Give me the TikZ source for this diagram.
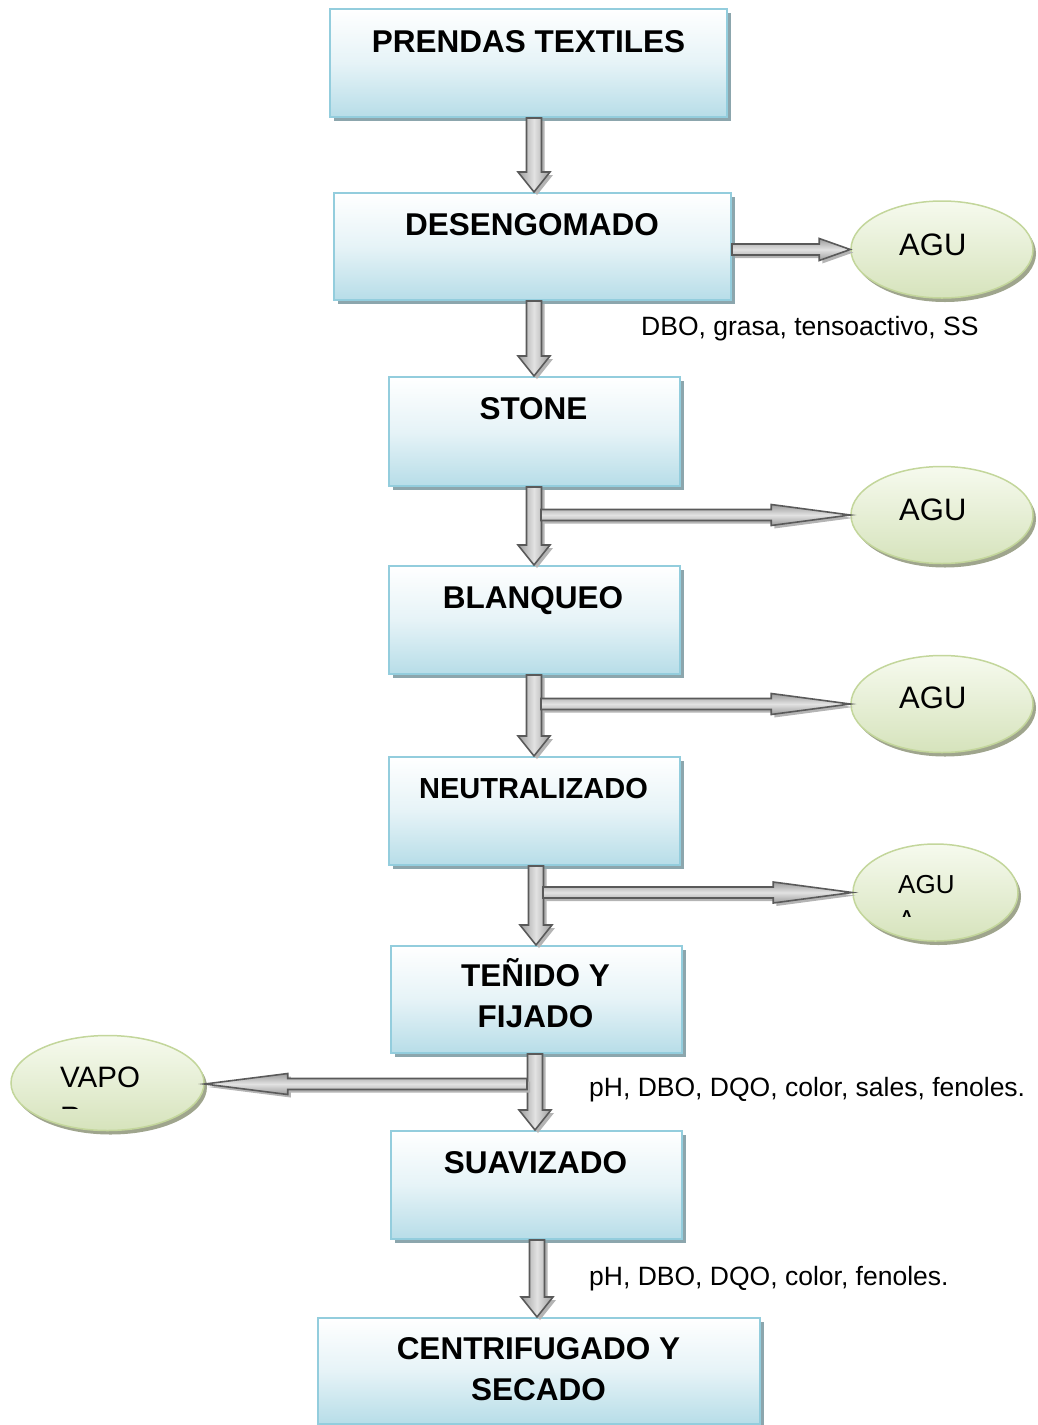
\documentclass[tikz,border=0pt]{standalone}
\usepackage{fontspec}
\setmainfont{Liberation Sans}
\usetikzlibrary{calc,shadows,shapes.geometric}

\definecolor{boxline}{HTML}{93CDDD}
\definecolor{boxbot}{HTML}{B7DDE8}
\definecolor{boxshadow}{HTML}{8CA6AD}
\definecolor{elline}{HTML}{C3D69B}
\definecolor{eltop}{HTML}{F6FAEE}
\definecolor{elbot}{HTML}{D6E3BC}
\definecolor{elshadow}{HTML}{9FA58D}
\definecolor{arrline}{HTML}{5A5A5A}
\definecolor{arrdark}{HTML}{9C9C9C}
\definecolor{arrlight}{HTML}{E2E2E2}
\definecolor{arrshadow}{HTML}{B4B4B4}

\tikzset{
  stepbox/.style={rectangle, draw=boxline, line width=2pt, inner sep=0pt,
    top color=white, bottom color=boxbot, middle color=boxbot!35!white,
    drop shadow={shadow xshift=4pt, shadow yshift=-4pt, fill=boxshadow, opacity=1}},
  ell/.style={ellipse, draw=elline, line width=1.5pt, inner sep=0pt,
    top color=eltop, bottom color=elbot,
    drop shadow={shadow xshift=3pt, shadow yshift=-4pt, fill=elshadow, opacity=1}},
  title/.style={inner sep=0pt, align=center, font=\bfseries\fontsize{31.5}{40.5}\selectfont},
  eltext/.style={inner sep=0pt, anchor=base west, font=\fontsize{31}{36}\selectfont},
  lbl/.style={inner sep=0pt, anchor=base west, font=\fontsize{26.5}{32}\selectfont},
  vshade/.style={left color=arrdark, right color=arrdark, middle color=arrlight},
  hshade/.style={top color=arrdark, bottom color=arrdark, middle color=arrlight},
}

% #1 shading style, #2 from, #3 to, #4 shaft half width, #5 head half width, #6 head length
\newcommand\blockarrow[6]{%
  \coordinate (baA) at #2;
  \coordinate (baB) at #3;
  \coordinate (baH) at ($(baB)!#6!(baA)$);
  \coordinate (bp1) at ($(baA)!#4!90:(baB)$);
  \coordinate (bp2) at ($(baH)!#4!90:(baB)$);
  \coordinate (bp3) at ($(baH)!#5!90:(baB)$);
  \coordinate (bp5) at ($(baH)!#5!-90:(baB)$);
  \coordinate (bp6) at ($(baH)!#4!-90:(baB)$);
  \coordinate (bp7) at ($(baA)!#4!-90:(baB)$);
  \fill[arrshadow] ([shift={(3,3)}]bp1) -- ([shift={(3,3)}]bp2) -- ([shift={(3,3)}]bp3)
     -- ([shift={(3,3)}]baB) -- ([shift={(3,3)}]bp5) -- ([shift={(3,3)}]bp6)
     -- ([shift={(3,3)}]bp7) -- cycle;
  \path[draw=arrline, line width=1.6pt, line join=miter, #1] (bp1) -- (bp2) -- (bp3) -- (baB)
     -- (bp5) -- (bp6) -- (bp7) -- cycle;
}

\begin{document}
\begin{tikzpicture}[x=1pt, y=-1pt]
\useasboundingbox (0,0) rectangle (1038,1425);

% process boxes
\node[stepbox, minimum width=397pt, minimum height=108pt] (pt) at (528.5,63) {};
\node[stepbox, minimum width=397pt, minimum height=107pt] (de) at (532.5,246.5) {};
\node[stepbox, minimum width=291pt, minimum height=109pt] (st) at (534.5,431.5) {};
\node[stepbox, minimum width=291pt, minimum height=108pt] (bl) at (534.5,620) {};
\node[stepbox, minimum width=291pt, minimum height=108pt] (ne) at (534.5,811) {};
\node[stepbox, minimum width=291pt, minimum height=107pt] (te) at (536.5,999.5) {};
\node[stepbox, minimum width=291pt, minimum height=108pt] (su) at (536.5,1185) {};
\node[stepbox, minimum width=442pt, minimum height=106pt] (ce) at (539,1371) {};

% box titles
\node[title, anchor=base] (ptT) at (528.5,52.5) {PRENDAS TEXTILES};
\node[title, anchor=base] (deT) at (532,235.5) {DESENGOMADO};
\node[title, anchor=base] (stT) at (533.5,419.5) {STONE};
\node[title, anchor=base] (blT) at (533,608.5) {BLANQUEO};
\node[inner sep=0pt, anchor=base, font=\bfseries\fontsize{29}{36}\selectfont] (neT) at (533.5,798) {NEUTRALIZADO};
\node[title, anchor=center] (teT) at (535.5,993) {TEÑIDO Y\\FIJADO};
\node[title, anchor=base] (suT) at (535.5,1173.5) {SUAVIZADO};
\node[title, anchor=center] (ceT) at (538.5,1369) {CENTRIFUGADO Y\\SECADO};

% output ellipses
\node[ell, minimum width=182pt, minimum height=97pt] (e1) at (942,249.5) {};
\node[ell, minimum width=182pt, minimum height=97pt] (e2) at (942,515) {};
\node[ell, minimum width=182pt, minimum height=97pt] (e3) at (942,704) {};
\node[ell, minimum width=165pt, minimum height=97pt] (e4) at (935.5,892.5) {};
\node[ell, minimum width=193pt, minimum height=95pt] (e5) at (107.5,1083) {};

\node[eltext] (e1T) at (899,255) {AGU};
\node[eltext] (e2T) at (899,520) {AGU};
\node[eltext] (e3T) at (899,708.5) {AGU};
\node[eltext, font=\fontsize{26}{30}\selectfont] (e4T) at (898,893) {AGU};
\begin{scope}
  \clip (860,880) rectangle (1010,916);
  \node[eltext, font=\fontsize{26}{30}\selectfont] (e4U) at (898,928) {A};
\end{scope}
\node[eltext, font=\fontsize{29.5}{36}\selectfont] (e5T) at (60,1087) {VAPO};
\begin{scope}
  \clip (20,1095) rectangle (200,1108.5);
  \node[eltext, font=\fontsize{29.5}{36}\selectfont] (e5U) at (60,1127) {R};
\end{scope}

% vertical block arrows
\blockarrow{vshade}{($(pt.south)+(5.5,0)$)}{($(de.north)+(1.5,0)$)}{7.5pt}{16pt}{20pt}
\blockarrow{vshade}{($(de.south)+(1.5,0)$)}{($(st.north)+(-0.5,0)$)}{7.5pt}{16pt}{20pt}
\blockarrow{vshade}{($(st.south)+(-0.5,0)$)}{($(bl.north)+(-0.5,0)$)}{7.5pt}{16pt}{20pt}
\blockarrow{vshade}{($(bl.south)+(-0.5,0)$)}{($(ne.north)+(-0.5,0)$)}{7.5pt}{16pt}{20pt}
\blockarrow{vshade}{($(ne.south)+(1.5,0)$)}{($(te.north)+(-0.5,0)$)}{7.5pt}{16pt}{20pt}
\blockarrow{vshade}{($(te.south)+(-1.5,0)$)}{($(su.north)+(-1.5,0)$)}{7.5pt}{16pt}{20pt}
\blockarrow{vshade}{($(su.south)+(0.5,0)$)}{($(ce.north)+(-2,0)$)}{7.5pt}{16pt}{20pt}

% horizontal block arrows
\coordinate (j2) at (541,515);
\coordinate (j3) at (541,704);
\coordinate (j4) at (543,892.5);
\coordinate (j5) at (527,1084);
\blockarrow{hshade}{(de.east |- e1.west)}{(e1.west)}{5.5pt}{11pt}{31pt}
\blockarrow{hshade}{(j2)}{(e2.west)}{5.5pt}{10.5pt}{79pt}
\blockarrow{hshade}{(j3)}{(e3.west)}{5.5pt}{10.5pt}{79pt}
\blockarrow{hshade}{(j4)}{(e4.west)}{5.5pt}{10.5pt}{79pt}
\blockarrow{hshade}{(j5)}{(e5.east |- j5)}{5.5pt}{10.5pt}{83pt}

% pollutant labels
\node[lbl] (l1) at (641,335.5) {DBO, grasa, tensoactivo, SS};
\node[lbl] (l2) at (589,1096.5) {pH, DBO, DQO, color, sales, fenoles.};
\node[lbl] (l3) at (589,1285.5) {pH, DBO, DQO, color, fenoles.};
\end{tikzpicture}
\end{document}
